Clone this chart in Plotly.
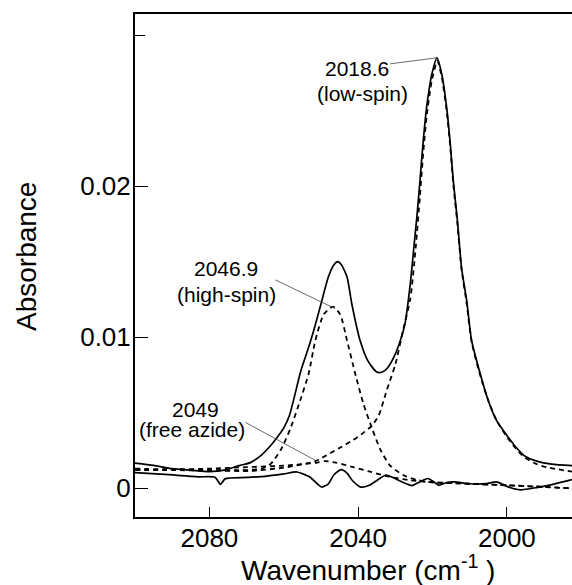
import plotly.graph_objects as go

# ---- data (wavenumber cm-1, absorbance) ----
total_wn = [2100, 2095, 2090, 2085, 2080, 2076, 2072, 2069, 2066, 2064, 2062, 2060, 2058.5,
            2057, 2055.5, 2053.5, 2052, 2050, 2048, 2046.5, 2045.5, 2044.5, 2043, 2041.7,
            2039.5, 2037.3, 2035, 2033.5, 2032, 2030, 2028.5, 2027.4, 2026, 2025, 2024.2,
            2023.4, 2022.5, 2021.6, 2020.2, 2018.8, 2017.5, 2016.2, 2015.3, 2014.4, 2013.3,
            2012.2, 2010.8, 2009.5, 2007.2, 2005, 2002.8, 2000, 1997.5, 1995, 1992, 1988, 1982.5]
total_abs = [0.00167, 0.00152, 0.0013, 0.0012, 0.0011, 0.0012, 0.0015, 0.0017, 0.0022, 0.0027,
             0.0033, 0.0040, 0.0048, 0.0062, 0.0077, 0.0092, 0.0104, 0.0122, 0.0140, 0.0148,
             0.0150, 0.0148, 0.0140, 0.0122, 0.0098, 0.0084, 0.0077, 0.0077, 0.0080, 0.0089,
             0.0099, 0.0109, 0.0135, 0.0160, 0.0180, 0.0203, 0.0230, 0.0252, 0.0274, 0.0285,
             0.0274, 0.0252, 0.0230, 0.0203, 0.0177, 0.0146, 0.0124, 0.0098, 0.0076, 0.0058,
             0.0045, 0.0035, 0.0027, 0.0021, 0.0018, 0.0016, 0.0015]

resid_wn = [2100.5, 2092, 2083, 2078.5, 2077, 2075.7, 2070, 2065, 2060, 2056.5, 2053, 2051,
            2049.7, 2048, 2046.5, 2044.6, 2043, 2041.5, 2039.3, 2037, 2034.5, 2032.5, 2030.5,
            2028, 2025.5, 2023.5, 2021.3, 2019.5, 2018.3, 2016, 2014, 2010, 2005.5, 2002.8,
            1999.2, 1996.5, 1992, 1987.6, 1982.5]
resid_abs = [0.00105, 0.00092, 0.00076, 0.00073, 0.00026, 0.00064, 0.00072, 0.00079, 0.00095,
             0.00108, 0.00075, 0.0003, 0.00008, 0.0003, 0.0009, 0.00123, 0.0010, 0.0005, 0.00008,
             0.0002, 0.0006, 0.00088, 0.0007, 0.0004, 0.00018, 0.00042, 0.00065, 0.0004, 0.0002,
             0.0004, 0.00042, 0.0003, 0.00031, 0.00042, 0.00005, -0.0001, 0.00005, 0.00026, 0.00057]

low_wn = [2100, 2090, 2080, 2069, 2059, 2051.5, 2048.4, 2044.8, 2041.3, 2039, 2036.5, 2034.5,
          2032.3, 2030, 2027.8, 2026, 2024.5, 2023.4, 2022.5, 2021.6, 2020.2, 2018.7, 2017.5,
          2016.2, 2015.3, 2014.4, 2013.3, 2012.2, 2010.8, 2009.5, 2007.2, 2005, 2002.8, 2000,
          1997.5, 1995, 1992, 1989.4, 1982.5]
low_abs = [0.0012, 0.0012, 0.00118, 0.00115, 0.0014, 0.0018, 0.0022, 0.0027, 0.0032, 0.0036,
           0.0041, 0.0048, 0.0065, 0.0082, 0.0106, 0.0125, 0.0160, 0.0193, 0.0222, 0.0246,
           0.0270, 0.0283, 0.0272, 0.0250, 0.0228, 0.0201, 0.0175, 0.0145, 0.0122, 0.0097,
           0.0075, 0.0058, 0.0045, 0.0034, 0.0026, 0.0020, 0.0016, 0.0014, 0.0011]

high_wn = [2100, 2090, 2080, 2072, 2066, 2063.6, 2060.9, 2058.3, 2055.6, 2053.3, 2051.5, 2049.3,
           2047.1, 2046.5, 2044.8, 2043, 2040.8, 2038.6, 2036.3, 2034.1, 2031.4, 2027.8, 2024.2,
           2020, 2010, 2000, 1990, 1982.5]
high_abs = [0.0013, 0.00125, 0.0012, 0.0012, 0.0013, 0.0016, 0.0025, 0.0039, 0.0058, 0.0076,
            0.0098, 0.0115, 0.0120, 0.0120, 0.0115, 0.0098, 0.0076, 0.0056, 0.0040, 0.0026,
            0.0015, 0.00086, 0.00055, 0.0004, 0.0003, 0.0002, 0.0001, 0.0]

azide_wn = [2100, 2090, 2080, 2070, 2060, 2055, 2051, 2049, 2046, 2041.3, 2036.8, 2032.3, 2026,
            2020, 2010, 2000, 1990, 1982.5]
azide_abs = [0.0012, 0.00125, 0.0013, 0.0014, 0.0015, 0.0016, 0.0017, 0.0018, 0.0017, 0.0014,
             0.0011, 0.0008, 0.00053, 0.0004, 0.0003, 0.0002, 0.00008, 0.0]

x_ticks = [2080, 2040, 2000]
x_ticklabels = ["2080", "2040", "2000"]
y_ticks = [0, 0.01, 0.02]
y_ticklabels = ["0", "0.01", "0.02"]
y_unlabelled_ticks = [0.03]

# peak label lines: text and centre position (wn, abs)
label_texts = ["2018.6", "(low-spin)", "2046.9", "(high-spin)", "2049", "(free azide)"]
label_wn = [2040.3, 2038.7, 2075.4, 2075.4, 2083.8, 2084.8]
label_abs = [0.02779, 0.02614, 0.01452, 0.01281, 0.00525, 0.00389]

# leader lines: start (wn, abs) -> end (wn, abs)
leader_start = [(2031.4, 0.0281), (2062.3, 0.0138), (2070.3, 0.00436)]
leader_end = [(2018.8, 0.0285), (2046.2, 0.0119), (2051.5, 0.00185)]

FONT = "Liberation Sans, Arial, Helvetica, sans-serif"

fig = go.Figure()
solid = dict(color="black", width=1.7, shape="spline", smoothing=0.6)
dashed = dict(color="black", width=1.8, dash="5px,4px", shape="spline", smoothing=0.6)

fig.add_trace(go.Scatter(x=high_wn, y=high_abs, mode="lines", line=dashed, showlegend=False))
fig.add_trace(go.Scatter(x=azide_wn, y=azide_abs, mode="lines", line=dashed, showlegend=False))
fig.add_trace(go.Scatter(x=low_wn, y=low_abs, mode="lines", line=dashed, showlegend=False))
fig.add_trace(go.Scatter(x=resid_wn, y=resid_abs, mode="lines", line=solid, showlegend=False))
fig.add_trace(go.Scatter(x=total_wn, y=total_abs, mode="lines", line=solid, showlegend=False))

for text, tx, ty in zip(label_texts, label_wn, label_abs):
    fig.add_annotation(x=tx, y=ty, text=text, showarrow=False, xref="x", yref="y",
                       font=dict(family=FONT, size=21, color="black"), borderpad=0)
for (sx, sy), (ex, ey) in zip(leader_start, leader_end):
    fig.add_shape(type="line", xref="x", yref="y", x0=sx, y0=sy, x1=ex, y1=ey,
                  line=dict(color="#444", width=0.8))

# axis titles placed as annotations (paper coordinates relative to plot area)
fig.add_annotation(text="Wavenumber (cm<sup>-1</sup> )", xref="paper", yref="paper",
                   x=0.533, y=-0.063, xanchor="center", yanchor="top", showarrow=False,
                   font=dict(family=FONT, size=28, color="black"), borderpad=0)
fig.add_annotation(text="Absorbance", xref="paper", yref="paper", textangle=-90,
                   x=-0.247, y=0.517, xanchor="center", yanchor="middle", showarrow=False,
                   font=dict(family=FONT, size=28, color="black"), borderpad=0)

fig.update_layout(
    width=572, height=585,
    margin=dict(l=135, r=0, t=14, b=68, autoexpand=False),
    paper_bgcolor="white", plot_bgcolor="white",
    font=dict(family=FONT, color="black"),
    xaxis=dict(range=[2100, 1982.5], autorange=False, showgrid=False, zeroline=False,
               showline=True, linecolor="black", linewidth=2, mirror=True, automargin=False,
               ticks="inside", ticklen=10, tickwidth=1, tickcolor="black",
               tickvals=x_ticks, ticktext=x_ticklabels, tickfont=dict(size=26),
               ticklabelstandoff=-3),
    yaxis=dict(range=[-0.0019, 0.0314], autorange=False, showgrid=False, zeroline=False,
               showline=True, linecolor="black", linewidth=2, automargin=False,
               ticks="inside", ticklen=13, tickwidth=1, tickcolor="black",
               tickvals=y_ticks, ticktext=y_ticklabels, tickfont=dict(size=26),
               ticklabelstandoff=-3,
               minor=dict(tickvals=y_unlabelled_ticks, ticks="inside", ticklen=10,
                          tickwidth=1, tickcolor="black", showgrid=False)),
)

# remove the default 8px page margin so the 572x585 figure fills the window exactly
fig.write_html("out.html", config={"displayModeBar": False},
               post_script="document.body.style.margin='0';document.body.style.overflow='hidden';")
